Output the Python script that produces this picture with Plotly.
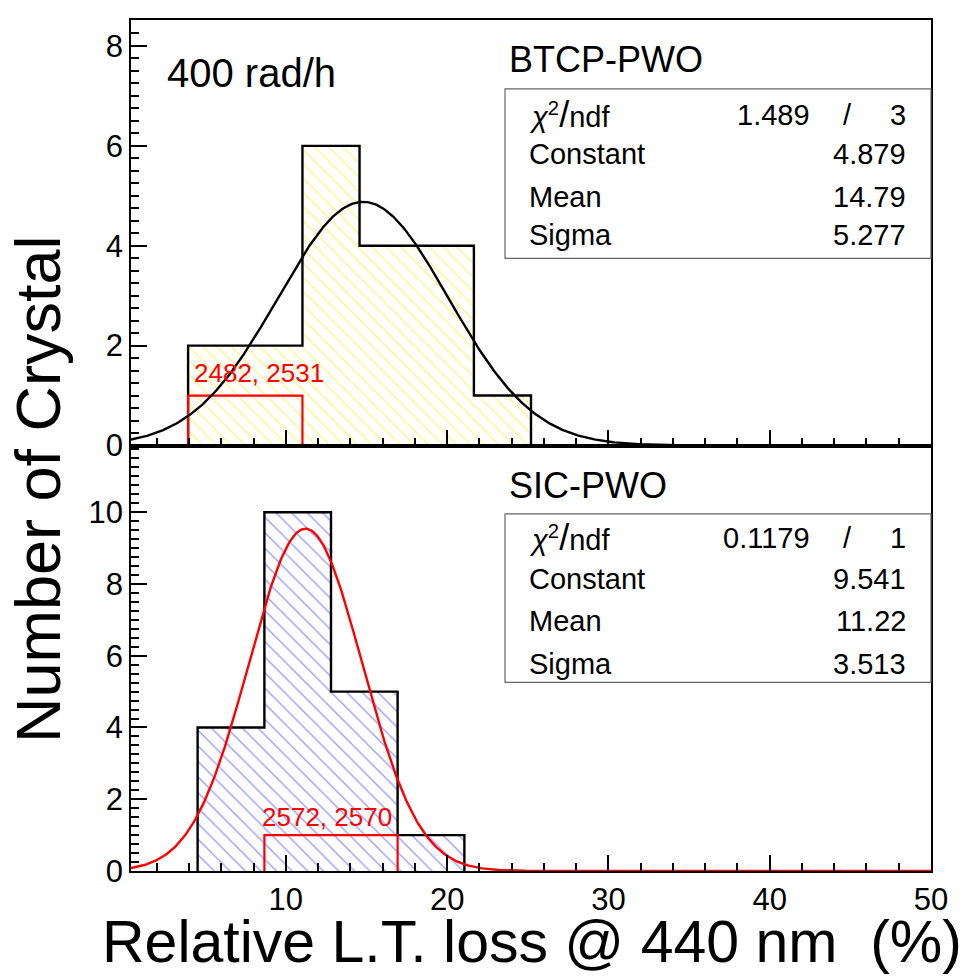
import numpy as np
import plotly.graph_objects as go

# ---------------- data ----------------
X_RANGE = [0.4, 50]

btcp_edges = [3.94, 7.49, 11.03, 14.57, 18.11, 21.66, 25.2]
btcp_counts = [2, 2, 6, 4, 4, 1]
btcp_sel_edges = [3.94, 7.49, 11.03]
btcp_sel_counts = [1, 1]
btcp_sel_label = "2482, 2531"

sic_edges = [4.53, 8.67, 12.8, 16.93, 21.07]
sic_counts = [4, 10, 5, 1]
sic_sel_edges = [8.67, 12.8, 16.93]
sic_sel_counts = [1, 1]
sic_sel_label = "2572, 2570"

btcp_fit = {"chi2": "1.489", "ndf": "3", "Constant": 4.879, "Mean": 14.79, "Sigma": 5.277}
sic_fit = {"chi2": "0.1179", "ndf": "1", "Constant": 9.541, "Mean": 11.22, "Sigma": 3.513}

FONT = "Liberation Sans, Arial, Helvetica, sans-serif"


def step_outline(edges, counts):
    xs, ys = [edges[0]], [0]
    for i, c in enumerate(counts):
        xs += [edges[i], edges[i + 1]]
        ys += [c, c]
    xs.append(edges[-1])
    ys.append(0)
    return xs, ys


def gauss_curve(p):
    xs = np.linspace(X_RANGE[0], X_RANGE[1], 600)
    ys = p["Constant"] * np.exp(-0.5 * ((xs - p["Mean"]) / p["Sigma"]) ** 2)
    return xs, ys


fig = go.Figure()


def add_panel(edges, counts, sel_edges, sel_counts, fit, xa, ya, hatch_color, hatch_size, fit_color):
    centers = [(edges[i] + edges[i + 1]) / 2 for i in range(len(counts))]
    widths = [edges[i + 1] - edges[i] for i in range(len(counts))]
    fig.add_trace(go.Bar(
        x=centers, y=counts, width=widths, xaxis=xa, yaxis=ya,
        marker=dict(color="white", line=dict(width=0),
                    pattern=dict(shape="\\", fgcolor=hatch_color, bgcolor="white",
                                 size=hatch_size, solidity=0.12)),
        hoverinfo="skip"))
    ox, oy = step_outline(edges, counts)
    fig.add_trace(go.Scatter(x=ox, y=oy, mode="lines", xaxis=xa, yaxis=ya,
                             line=dict(color="black", width=2.4), hoverinfo="skip"))
    sx, sy = step_outline(sel_edges, sel_counts)
    fig.add_trace(go.Scatter(x=sx, y=sy, mode="lines", xaxis=xa, yaxis=ya,
                             line=dict(color="#ff0000", width=2.2), hoverinfo="skip"))
    gx, gy = gauss_curve(fit)
    fig.add_trace(go.Scatter(x=gx, y=gy, mode="lines", xaxis=xa, yaxis=ya,
                             line=dict(color=fit_color, width=2.4), hoverinfo="skip"))


add_panel(btcp_edges, btcp_counts, btcp_sel_edges, btcp_sel_counts, btcp_fit,
          "x", "y", "#eeee00", 10, "black")
add_panel(sic_edges, sic_counts, sic_sel_edges, sic_sel_counts, sic_fit,
          "x2", "y2", "#3030ff", 11, "#ff0000")

axis_common = dict(
    showgrid=False, zeroline=False, showline=True, mirror=True,
    linecolor="black", linewidth=1.6,
    ticks="inside", tickcolor="black", tickwidth=1.5,
    tickfont=dict(family=FONT, size=31, color="black"),
)

fig.update_layout(
    width=967, height=977,
    margin=dict(l=123, r=44, t=10, b=114),
    paper_bgcolor="white", plot_bgcolor="white",
    showlegend=False, bargap=0,
    xaxis=dict(domain=[0, 1], anchor="y", range=X_RANGE, showticklabels=False,
               tick0=0, dtick=10, ticklen=16,
               minor=dict(ticks="inside", tick0=0, dtick=2, ticklen=8,
                          tickcolor="black", tickwidth=1.5),
               **axis_common),
    yaxis=dict(domain=[0.5, 1], anchor="x", range=[0, 8.52],
               tick0=0, dtick=2, ticklen=16,
               minor=dict(ticks="inside", tick0=0, dtick=0.25, ticklen=8,
                          tickcolor="black", tickwidth=1.5),
               **axis_common),
    xaxis2=dict(domain=[0, 1], anchor="y2", range=X_RANGE, showticklabels=True,
                tick0=0, dtick=10, ticklen=16,
                minor=dict(ticks="inside", tick0=0, dtick=2, ticklen=8,
                           tickcolor="black", tickwidth=1.5),
                **axis_common),
    yaxis2=dict(domain=[0, 0.5], anchor="x2", range=[0, 11.86],
                tick0=0, dtick=2, ticklen=16,
                minor=dict(ticks="inside", tick0=0, dtick=0.25, ticklen=8,
                           tickcolor="black", tickwidth=1.5),
                **axis_common),
)

ann = []


def txt(x, y, text, size, xanchor="left", color="black", xref="paper", yref="paper"):
    ann.append(dict(x=x, y=y, xref=xref, yref=yref, text=text, showarrow=False,
                    xanchor=xanchor, yanchor="middle",
                    font=dict(family=FONT, size=size, color=color)))


# axis titles
txt(0.501, -0.083, "Relative L.T. loss @ 440 nm  (%)", 59, xanchor="center")
ann.append(dict(x=-0.116, y=0.449, xref="paper", yref="paper", text="Number of Crystal",
                showarrow=False, textangle=-90, xanchor="center", yanchor="middle",
                font=dict(family=FONT, size=63, color="black")))

# panel labels
txt(0.0425, 0.938, "400 rad/h", 40)
txt(0.47, 0.954, "BTCP-PWO", 36)
txt(0.47, 0.4525, "SIC-PWO", 36)

# selected crystal labels (data coords)
txt(4.2, 1.46, btcp_sel_label, 26, color="#ff0000", xref="x", yref="y")
txt(8.4, 1.5, sic_sel_label, 26, color="#ff0000", xref="x2", yref="y2")


def stats_box(fit, y_top, y_bot, rows):
    fig.add_shape(type="rect", xref="paper", yref="paper", x0=0.4675, x1=1.0,
                  y0=y_bot, y1=y_top, line=dict(color="#666666", width=1.2),
                  fillcolor="white", layer="above")
    lx, vx = 0.495, 0.971
    txt(lx, rows[0], "<i>χ</i><sup>2</sup><span style='font-size:36px'>/</span>ndf", 29)
    txt(0.851, rows[0], fit["chi2"], 29, xanchor="right")
    txt(0.896, rows[0], "/", 29, xanchor="center")
    txt(vx, rows[0], fit["ndf"], 29, xanchor="right")
    for r, key in zip(rows[1:], ["Constant", "Mean", "Sigma"]):
        txt(lx, r, key, 29)
        s = f"{fit[key]:.4g}"
        txt(vx, r, s, 29, xanchor="right")


stats_box(btcp_fit, 0.919, 0.7198, [0.8886, 0.8429, 0.7925, 0.7479])
stats_box(sic_fit, 0.4197, 0.2216, [0.3916, 0.3435, 0.2943, 0.2438])

fig.update_layout(annotations=ann)
fig.write_html("out.html")
